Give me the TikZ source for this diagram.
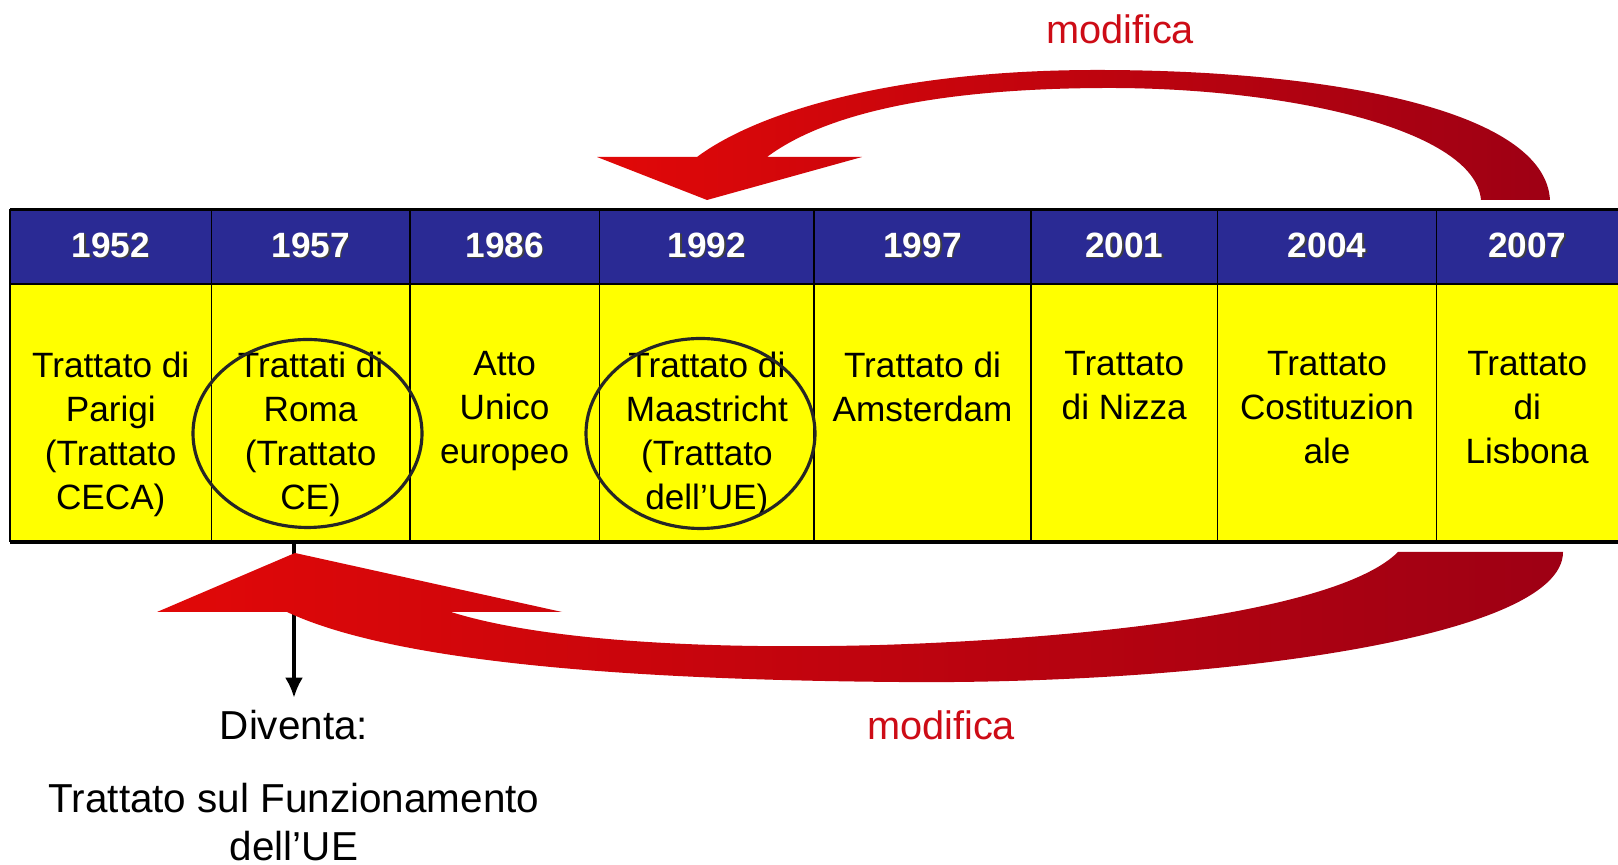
\documentclass[tikz,border=0pt]{standalone}
\usepackage{fontspec}
\setmainfont{Liberation Sans}
\usetikzlibrary{arrows.meta}
\definecolor{hdrblue}{RGB}{42,42,148}
\definecolor{cellyellow}{RGB}{255,255,0}
\definecolor{arrowred}{RGB}{225,8,8}
\definecolor{arrowdark}{RGB}{158,0,20}
\definecolor{textred}{RGB}{205,12,22}
\tikzset{
	yeartext/.style={font=\bfseries\fontsize{10}{12}\selectfont, text=white},
	yearshadow/.style={font=\bfseries\fontsize{10}{12}\selectfont, text=black!75},
	treatytext/.style={font=\fontsize{10}{12.5}\selectfont, align=center, anchor=north, inner sep=0pt},
	ring/.style={line width=0.9pt, draw=black!85},
	notetext/.style={font=\fontsize{11.5}{13.75}\selectfont, align=center},
	redtext/.style={font=\fontsize{11.3}{13}\selectfont, text=textred},
	bigarrow/.style={left color=arrowred, right color=arrowdark}
}

\begin{document}
\begin{tikzpicture}[x=0.01cm, y=-0.01cm]
		%%%%% START %%%%%
		\useasboundingbox (0,0) rectangle (1618,865);
		
		% table
		\foreach \xa/\xb/\yr/\tr [count=\i] in {
			10/211.5/1952/{Trattato di\\Parigi\\(Trattato\\CECA)},
			211.5/409.7/1957/{Trattati di\\Roma\\(Trattato\\CE)},
			409.7/599.5/1986/{Atto\\Unico\\europeo},
			599.5/814.2/1992/{Trattato di\\Maastricht\\(Trattato\\dell'UE)},
			814.2/1030.9/1997/{Trattato di\\Amsterdam},
			1030.9/1217.6/2001/{Trattato\\di Nizza},
			1217.6/1436.4/2004/{Trattato\\Costituzion\\ale},
			1436.4/1618/2007/{Trattato\\di\\Lisbona}}{
			\fill[hdrblue] (\xa,209.5) rectangle (\xb,284);
			\fill[cellyellow] (\xa,284) rectangle (\xb,542);
			\draw[line width=0.5pt] (\xa,209.5) -- (\xa,542);
			\node[yearshadow] at ({(\xa+\xb)/2+1.5},246.5) {\yr};
			\node[yeartext] (yr\i) at ({(\xa+\xb)/2},245) {\yr};
			\node[treatytext] (tr\i) at ({(\xa+\xb)/2},351) {\tr};
		}
		\draw[line width=0.8pt] (10,209.5) -- (1618,209.5);
		\draw[line width=0.5pt] (10,284) -- (1618,284);
		\draw[line width=1.2pt] (10,542) -- (1618,542);
		
		\draw[ring] (307.5,433.5) ellipse [x radius=114.5, y radius=94];
		\draw[ring] (700.5,433.5) ellipse [x radius=114.5, y radius=95];
		
		% Diventa
		\coordinate (becomes) at (294,543);
		\node[notetext] (diventa) at (294,725) {Diventa:};
		\node[notetext] (tfue) at (294,822) {Trattato sul Funzionamento\\dell'UE};
		\draw[line width=1pt, -{Latex[length=2mm, width=1.8mm]}] (becomes) -- (diventa.north);
		
		% upper arrow
		\shade[bigarrow] (1550,200) .. controls (1545,110) and (1330,70) .. (1097,70)
			.. controls (900,70) and (760,110) .. (697,157)
			-- (597,157) -- (707,200) -- (862,157) -- (767,157)
			.. controls (830,110) and (950,88) .. (1110,88)
			.. controls (1290,88) and (1475,130) .. (1481,200) -- cycle;
		\node[redtext] (modtop) at (1120,29) {modifica};
		
		% lower arrow
		\shade[bigarrow] (1563,552) .. controls (1563,640) and (1200,685) .. (898,682)
			.. controls (650,680) and (400,665) .. (287,612)
			-- (157,612) -- (295,553) -- (562,612) -- (451,612)
			.. controls (540,640) and (700,650) .. (880,645)
			.. controls (1100,638) and (1340,610) .. (1398,552) -- cycle;
		\node[redtext] (modbot) at (941,725) {modifica};
		
		%%%%% END %%%%%
\end{tikzpicture}
\end{document}
